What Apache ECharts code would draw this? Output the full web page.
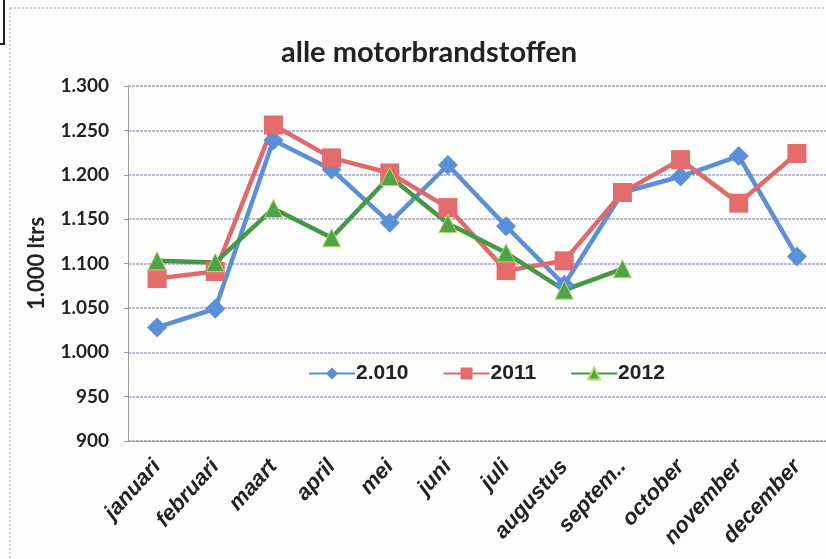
<!DOCTYPE html>
<html><head><meta charset="utf-8">
<script src="https://cdn.jsdelivr.net/npm/echarts@6/dist/echarts.min.js"></script>
<style>html,body{margin:0;padding:0;background:#fdfdfd}#c{width:826px;height:559px}</style>
</head><body><div id="c"></div>
<script>
var months = ['januari','februari','maart','april','mei','juni','juli','augustus','septem..','october','november','december'];
var yTicks = [900, 950, 1000, 1050, 1100, 1150, 1200, 1250, 1300];
var s2010 = [1028, 1049, 1239, 1206, 1146, 1211, 1142, 1076, 1180, 1198, 1221, 1108];
var s2011 = [1083, 1091, 1256, 1219, 1202, 1163, 1092, 1103, 1180, 1217, 1168, 1224];
var s2012 = [1103, 1101, 1162, 1129, 1198, 1145, 1112, 1070, 1094];
var seriesNames = ['2.010', '2011', '2012'];

function fmt(v){ v = Math.round(v); return v >= 1000 ? Math.floor(v/1000) + '.' + String(v%1000).padStart(3,'0') : String(v); }

var chart = echarts.init(document.getElementById('c'));
chart.setOption({
  backgroundColor: '#fdfdfd',
  animation: false,
  title: { text: 'alle motorbrandstoffen', left: 424, top: 33, textAlign: 'center',
    textStyle: { fontFamily: 'Lato', fontWeight: 'bold', fontSize: 29, color: '#222' } },
  legend: { left: 303, top: 358, itemWidth: 46, itemHeight: 15, itemGap: 34,
    data: seriesNames,
    textStyle: { fontFamily: 'Liberation Sans', fontWeight: 'bold', fontSize: 21, color: '#222', padding: [0,0,0,-4] } },
  grid: { left: 128, top: 86, bottom: 118, right: -14 },
  graphic: [
    { type: 'line', shape: { x1: 10, y1: 8, x2: 826, y2: 8 }, style: { stroke: '#999', lineWidth: 1, lineDash: [2,2] } },
    { type: 'line', shape: { x1: 10, y1: 8, x2: 10, y2: 559 }, style: { stroke: '#aaa', lineWidth: 1, lineDash: [2,2] } },
    { type: 'polyline', shape: { points: [[4,0],[4,44],[0,44]] }, style: { stroke: '#222', lineWidth: 2, fill: null } }
  ],
  xAxis: { type: 'category', data: months, boundaryGap: true,
    axisLine: { lineStyle: { color: '#9a9ab0', width: 1 } },
    axisTick: { show: false },
    axisLabel: { rotate: 48, margin: 22, interval: 0, fontFamily: 'Liberation Sans', fontStyle: 'italic', fontWeight: 'bold', fontSize: 22, color: '#222' } },
  yAxis: { type: 'value', min: yTicks[0], max: yTicks[yTicks.length-1], interval: 50,
    name: '1.000 ltrs', nameLocation: 'middle', nameGap: 80, nameRotate: 90,
    nameTextStyle: { fontFamily: 'Lato', fontWeight: 'bold', fontSize: 22, color: '#222' },
    axisLine: { show: true, lineStyle: { color: '#9a9ab0', width: 1 } },
    axisTick: { show: true, length: 4, lineStyle: { color: '#9a9ab0' } },
    axisLabel: { margin: 19, formatter: fmt, fontFamily: 'Lato', fontWeight: 'bold', fontSize: 19, color: '#222' },
    splitLine: { lineStyle: { color: '#a4a2c0', width: 1.5, type: [3,1] } } },
  series: [
    { name: seriesNames[0], type: 'line', data: s2010, symbol: 'diamond', symbolSize: 20,
      lineStyle: { color: '#5b8fd8', width: 4.5 }, itemStyle: { color: '#5b8fd8' } },
    { name: seriesNames[1], type: 'line', data: s2011, symbol: 'rect', symbolSize: 19,
      lineStyle: { color: '#e06a6a', width: 4.5 }, itemStyle: { color: '#e46c6c' } },
    { name: seriesNames[2], type: 'line', data: s2012, symbol: 'triangle', symbolSize: 18,
      lineStyle: { color: '#459845', width: 4.5 }, itemStyle: { color: '#4fa44a', borderColor: '#b8d860', borderWidth: 1 } }
  ]
});
</script></body></html>
